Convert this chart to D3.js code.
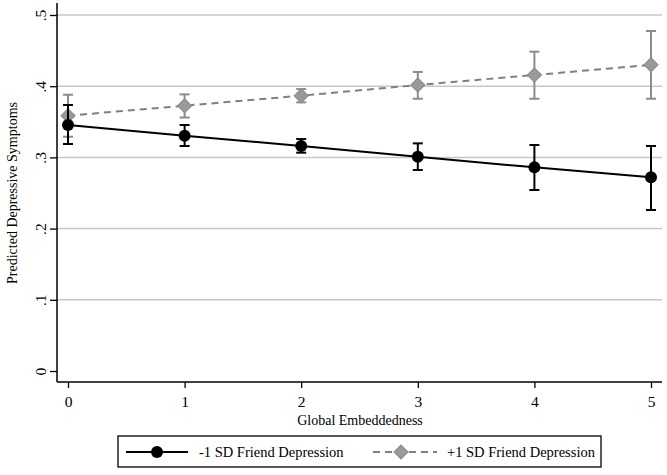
<!DOCTYPE html>
<html>
<head>
<meta charset="utf-8">
<script src="https://cdn.jsdelivr.net/npm/d3@7"></script>
<style>
  html, body { margin: 0; padding: 0; background: #fff; }
  svg { display: block; font-family: "Liberation Serif", "Times New Roman", serif; }
</style>
</head>
<body>
<svg id="chart" width="667" height="475"></svg>
<script>
// ---- data ----
const xValues = [0, 1, 2, 3, 4, 5];
const lowLabel = "-1 SD Friend Depression";
const highLabel = "+1 SD Friend Depression";
const lowMean  = [0.3455, 0.3305, 0.316, 0.301, 0.286, 0.272];
const lowLo    = [0.3188, 0.316, 0.3066, 0.2823, 0.2542, 0.2261];
const lowHi    = [0.3736, 0.3455, 0.3258, 0.3197, 0.3174, 0.316];
const highMean = [0.3586, 0.3726, 0.3867, 0.4017, 0.4157, 0.430];
const highLo   = [0.329, 0.356, 0.3773, 0.3824, 0.3824, 0.3824];
const highHi   = [0.388, 0.3885, 0.396, 0.420, 0.4485, 0.4775];
const yTicks = [0, 0.1, 0.2, 0.3, 0.4, 0.5];
const yTickLabels = ["0", ".1", ".2", ".3", ".4", ".5"];
const xTitle = "Global Embeddedness";
const yTitle = "Predicted Depressive Symptoms";

const svg = d3.select("#chart");

const x = d3.scaleLinear().domain([0, 5]).range([68, 651]);
const y = d3.scaleLinear().domain([0, 0.5]).range([371, 15]);

const axisLeftX = 57, axisBottomY = 382, plotRight = 662, plotTop = 3;

// gridlines
svg.append("g").selectAll("line").data(yTicks.slice(1)).join("line")
  .attr("x1", axisLeftX).attr("x2", plotRight)
  .attr("y1", d => y(d)).attr("y2", d => y(d))
  .attr("stroke", "#c8c8c8").attr("stroke-width", 1.5);

// y axis
const yAxis = d3.axisLeft(y).tickValues(yTicks).tickFormat((d, i) => yTickLabels[i]).tickSize(7).tickPadding(4);
const gy = svg.append("g").attr("transform", `translate(${axisLeftX},0)`).call(yAxis);
gy.select(".domain").remove();
gy.append("line").attr("x1", 0).attr("x2", 0).attr("y1", plotTop).attr("y2", axisBottomY)
  .attr("stroke", "#000").attr("stroke-width", 1.5);
gy.selectAll(".tick line").attr("stroke", "#000").attr("stroke-width", 1.3);
gy.selectAll(".tick text")
  .attr("font-family", "Liberation Serif").attr("font-size", 15.5).attr("fill", "#000")
  .attr("text-anchor", "middle").attr("dy", null)
  .attr("transform", "translate(-17,0) rotate(-90)").attr("x", 0).attr("y", 0)
  .attr("dominant-baseline", "central");

// x axis
const xAxis = d3.axisBottom(x).tickValues(xValues).tickFormat(d3.format("d")).tickSize(6).tickPadding(8);
const gx = svg.append("g").attr("transform", `translate(0,${axisBottomY})`).call(xAxis);
gx.select(".domain").remove();
gx.append("line").attr("x1", axisLeftX).attr("x2", plotRight).attr("y1", 0).attr("y2", 0)
  .attr("stroke", "#000").attr("stroke-width", 1.5);
gx.selectAll(".tick line").attr("stroke", "#000").attr("stroke-width", 1.3);
gx.selectAll(".tick text").attr("font-family", "Liberation Serif").attr("font-size", 15.5).attr("fill", "#000");

// axis titles
svg.append("text").attr("x", 360).attr("y", 425).attr("text-anchor", "middle")
  .attr("font-size", 14).attr("fill", "#000").text(xTitle);
svg.append("text").attr("transform", "translate(17,193) rotate(-90)").attr("text-anchor", "middle")
  .attr("font-size", 14).attr("fill", "#000").text(yTitle);

const lowData = xValues.map((v, i) => ({x: v, m: lowMean[i], lo: lowLo[i], hi: lowHi[i]}));
const highData = xValues.map((v, i) => ({x: v, m: highMean[i], lo: highLo[i], hi: highHi[i]}));

const line = d3.line().x(d => x(d.x)).y(d => y(d.m));
const capW = 5;

function errorBars(data, color, width) {
  const g = svg.append("g");
  g.selectAll("line.v").data(data).join("line").attr("class", "v")
    .attr("x1", d => x(d.x)).attr("x2", d => x(d.x))
    .attr("y1", d => y(d.lo)).attr("y2", d => y(d.hi))
    .attr("stroke", color).attr("stroke-width", width);
  ["lo", "hi"].forEach(k => {
    g.selectAll("line." + k).data(data).join("line").attr("class", k)
      .attr("x1", d => x(d.x) - capW).attr("x2", d => x(d.x) + capW)
      .attr("y1", d => y(d[k])).attr("y2", d => y(d[k]))
      .attr("stroke", color).attr("stroke-width", width);
  });
}

// high series (gray, dashed, diamonds)
errorBars(highData, "#8c8c8c", 2);
svg.append("path").datum(highData).attr("d", line).attr("fill", "none")
  .attr("stroke", "#808080").attr("stroke-width", 2).attr("stroke-dasharray", "7,5");
svg.append("g").selectAll("path").data(highData).join("path")
  .attr("d", d3.symbol().type(d3.symbolSquare).size(100))
  .attr("transform", d => `translate(${x(d.x)},${y(d.m)}) rotate(45)`)
  .attr("fill", "#999999").attr("stroke", "#8a8a8a").attr("stroke-width", 1);

// low series (black, solid, circles)
errorBars(lowData, "#000", 2);
svg.append("path").datum(lowData).attr("d", line).attr("fill", "none")
  .attr("stroke", "#000").attr("stroke-width", 2);
svg.append("g").selectAll("circle").data(lowData).join("circle")
  .attr("cx", d => x(d.x)).attr("cy", d => y(d.m)).attr("r", 6).attr("fill", "#000");

// legend
const lg = svg.append("g");
lg.append("rect").attr("x", 118).attr("y", 436).attr("width", 483).attr("height", 31)
  .attr("fill", "#fff").attr("stroke", "#000").attr("stroke-width", 1.3);
lg.append("line").attr("x1", 126).attr("x2", 188).attr("y1", 452).attr("y2", 452)
  .attr("stroke", "#000").attr("stroke-width", 2);
lg.append("circle").attr("cx", 157).attr("cy", 452).attr("r", 6).attr("fill", "#000");
lg.append("text").attr("x", 199).attr("y", 457).attr("font-size", 14.5).attr("fill", "#000").text(lowLabel);
lg.append("line").attr("x1", 373).attr("x2", 437).attr("y1", 452).attr("y2", 452)
  .attr("stroke", "#808080").attr("stroke-width", 2).attr("stroke-dasharray", "7,5");
lg.append("path").attr("d", d3.symbol().type(d3.symbolSquare).size(100))
  .attr("transform", "translate(401,452) rotate(45)")
  .attr("fill", "#999999").attr("stroke", "#8a8a8a").attr("stroke-width", 1);
lg.append("text").attr("x", 447).attr("y", 457).attr("font-size", 14.5).attr("fill", "#000").text(highLabel);
</script>
</body>
</html>
